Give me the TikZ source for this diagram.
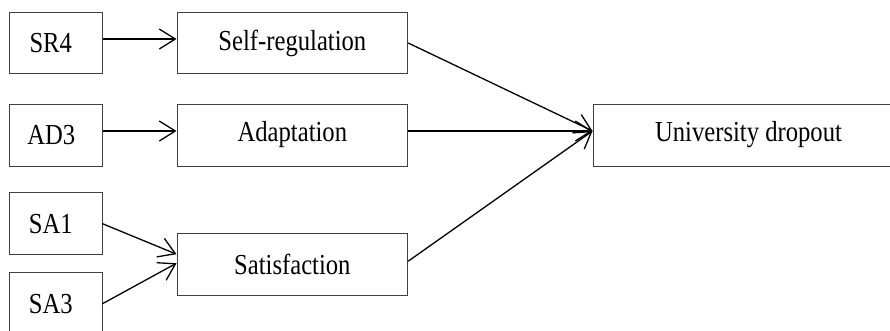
\documentclass[tikz,border=0pt]{standalone}
\usepackage{fontspec}
\setmainfont{Liberation Serif}[FakeStretch=0.85]
\usetikzlibrary{arrows.meta}
\begin{document}
\begin{tikzpicture}[x=1pt,y=-1pt,
  box/.style={draw=black!75, line width=1pt, rectangle, inner sep=0pt,
    font=\fontsize{29}{33}\selectfont},
  small/.style={box, minimum width=92.5pt, minimum height=61pt},
  wide/.style={box, minimum width=230.7pt, minimum height=61.5pt},
  conn/.style={line width=1.3pt, -{Straight Barb[length=16pt,width=20pt,line width=1.3pt]}}]
\useasboundingbox (0,0) rectangle (890,330);
\clip (0,0) rectangle (890,330);
\node[small, minimum height=60.6pt] (sr4) at (55.75,43) {\kern-10pt SR4};
\node[wide, minimum height=60.6pt] (selfreg) at (292.35,43) {Self-regulation};
\node[small, minimum height=62pt] (ad3) at (55.75,135) {\kern-9pt AD3};
\node[wide, minimum height=62pt] (adapt) at (292.35,135) {Adaptation};
\node[small, minimum height=62pt] (sa1) at (55.75,223.7) {\kern-10pt SA1};
\node[wide, minimum height=61.7pt] (satis) at (292.35,264.2) {Satisfaction};
\node[small, minimum height=62pt] (sa3) at (55.75,303.7) {\kern-10pt SA3};
\node[box, minimum width=311pt, minimum height=62pt] (univ) at (748.5,135) {University dropout};
\draw[conn] ([yshift=4pt]sr4.east) -- ([yshift=4pt]selfreg.west);
\draw[conn] ([yshift=4pt]ad3.east) -- ([yshift=4pt]adapt.west);
\draw[conn] (sa1.east) -- ([yshift=10pt]satis.west);
\draw[conn] (sa3.east) -- ([yshift=1pt]satis.west);
\draw[conn] (selfreg.east) -- ([yshift=4pt]univ.west);
\draw[conn] ([yshift=4pt]adapt.east) -- ([yshift=4pt]univ.west);
\draw[conn] ([yshift=3pt]satis.east) -- ([yshift=4pt]univ.west);
\end{tikzpicture}
\end{document}
